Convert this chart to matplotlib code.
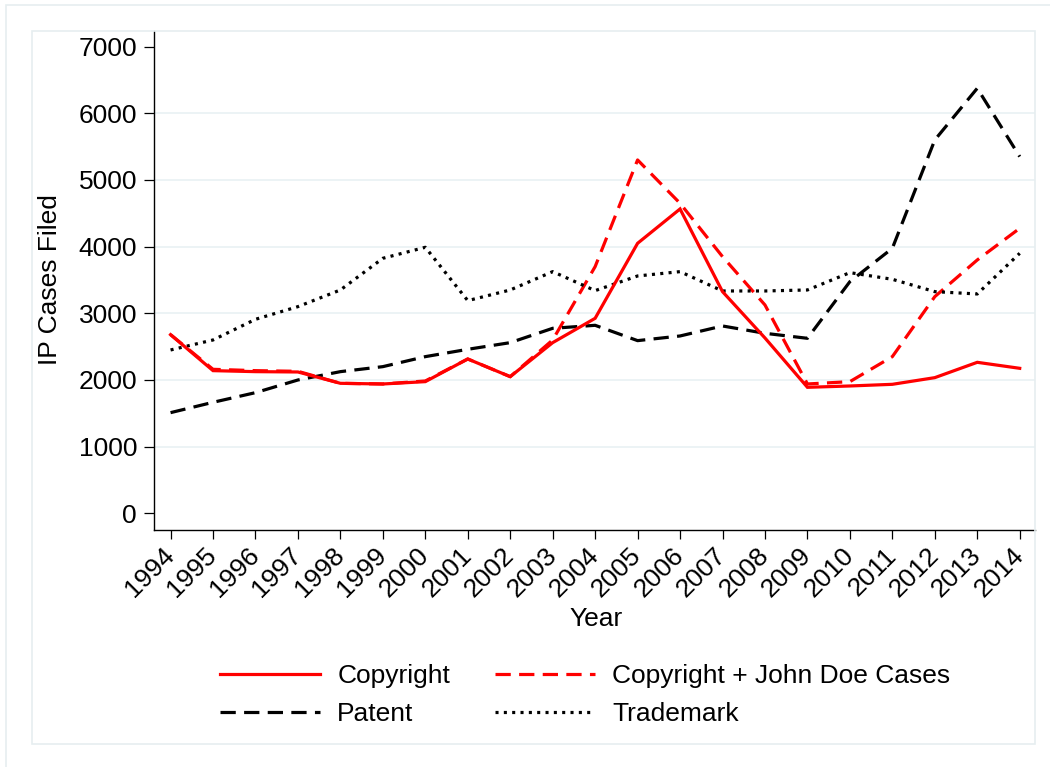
import matplotlib
matplotlib.use("Agg")
import matplotlib.pyplot as plt
from matplotlib.patches import Rectangle

plt.rcParams['font.family'] = ['Liberation Sans', 'DejaVu Sans']
plt.rcParams['lines.scale_dashes'] = False

# Federal IP case filings by year
years = list(range(1994, 2015))
copyright_cases = [2680, 2140, 2125, 2120, 1950, 1940, 1975, 2315, 2050, 2560, 2925,
                   4050, 4565, 3325, 2630, 1890, 1910, 1935, 2035, 2265, 2175]
copyright_doe = [2680, 2160, 2140, 2130, 1950, 1940, 1985, 2315, 2050, 2600, 3700,
                 5300, 4650, 3850, 3125, 1940, 1975, 2350, 3250, 3800, 4275]
patent_cases = [1510, 1665, 1810, 2000, 2125, 2200, 2350, 2460, 2560, 2775, 2820,
                2590, 2660, 2810, 2700, 2625, 3475, 3975, 5600, 6375, 5350]
trademark_cases = [2450, 2600, 2910, 3100, 3350, 3825, 3990, 3190, 3350, 3625, 3340,
                   3560, 3625, 3335, 3335, 3350, 3610, 3510, 3325, 3290, 3900]
y_ticks = [0, 1000, 2000, 3000, 4000, 5000, 6000, 7000]
grid_levels = [1000, 2000, 3000, 4000, 5000, 6000]

W, H = 1050, 767
FS = 19
RED = '#ff0000'
FRAME = '#e6eef0'
GRID = '#e9f1f3'

fig = plt.figure(figsize=(W / 100, H / 100), dpi=100)
fig.patch.set_facecolor('white')

def px_rect(x0, y0, x1, y1, **kw):
    return Rectangle((x0 / W, 1 - y1 / H), (x1 - x0) / W, (y1 - y0) / H,
                     transform=fig.transFigure, fill=False, **kw)

# outer and plot-region frames
fig.patches.append(px_rect(6, 5, 1060, 780, edgecolor=FRAME, lw=1.2))
fig.patches.append(px_rect(32, 31, 1035, 744, edgecolor=FRAME, lw=1.2))

ax = fig.add_axes([154 / W, 1 - 530 / H, (1035 - 154) / W, (530 - 31) / H])
ax.set_facecolor('white')

for g in grid_levels:
    ax.axhline(g, color=GRID, lw=1.2, zorder=0)

lw = 2.3
h_copy, = ax.plot(years, copyright_cases, color=RED, lw=lw, solid_joinstyle='miter',
                  label='Copyright', zorder=4)
h_doe, = ax.plot(years, copyright_doe, color=RED, lw=lw, dashes=(11, 6),
                 dash_capstyle='butt', label='Copyright + John Doe Cases', zorder=3)
h_pat, = ax.plot(years, patent_cases, color='black', lw=lw, dashes=(11, 6),
                 dash_capstyle='butt', label='Patent', zorder=3)
h_tm, = ax.plot(years, trademark_cases, color='black', lw=lw, dashes=(2.2, 3.8),
                dash_capstyle='butt', label='Trademark', zorder=3)

ax.set_xlim(1993.61, 2014.36)
ax.set_ylim(-250, 7234)

ax.spines['top'].set_visible(False)
ax.spines['right'].set_visible(False)
ax.spines['left'].set_linewidth(1.0)
ax.spines['bottom'].set_linewidth(1.0)

ax.set_yticks(y_ticks)
ax.set_yticklabels([str(v) for v in y_ticks], fontsize=FS)
ax.tick_params(axis='y', length=7.2, width=0.9, pad=5)

ax.set_xticks(years)
ax.set_xticklabels([str(y) for y in years], fontsize=FS, rotation=45,
                   ha='right', va='center', rotation_mode='anchor')
ax.tick_params(axis='x', length=6.5, width=0.9, pad=9)

fig.text(50 / W, 1 - 280 / H, 'IP Cases Filed', rotation=90, fontsize=FS,
         ha='center', va='center')
fig.text(596 / W, 1 - 619 / H, 'Year', fontsize=FS, ha='center', va='center')

# two-column legend, filled column by column
order = [h_copy, h_pat, h_doe, h_tm]
fig.legend(order, [h.get_label() for h in order], ncol=2, loc='upper left',
           bbox_to_anchor=(220 / W, 1 - 664 / H), frameon=False, fontsize=FS,
           handlelength=3.8, handletextpad=0.64, columnspacing=1.7,
           labelspacing=0.53, borderpad=0, borderaxespad=0)

fig.savefig('out.png', dpi=100, facecolor='white')
